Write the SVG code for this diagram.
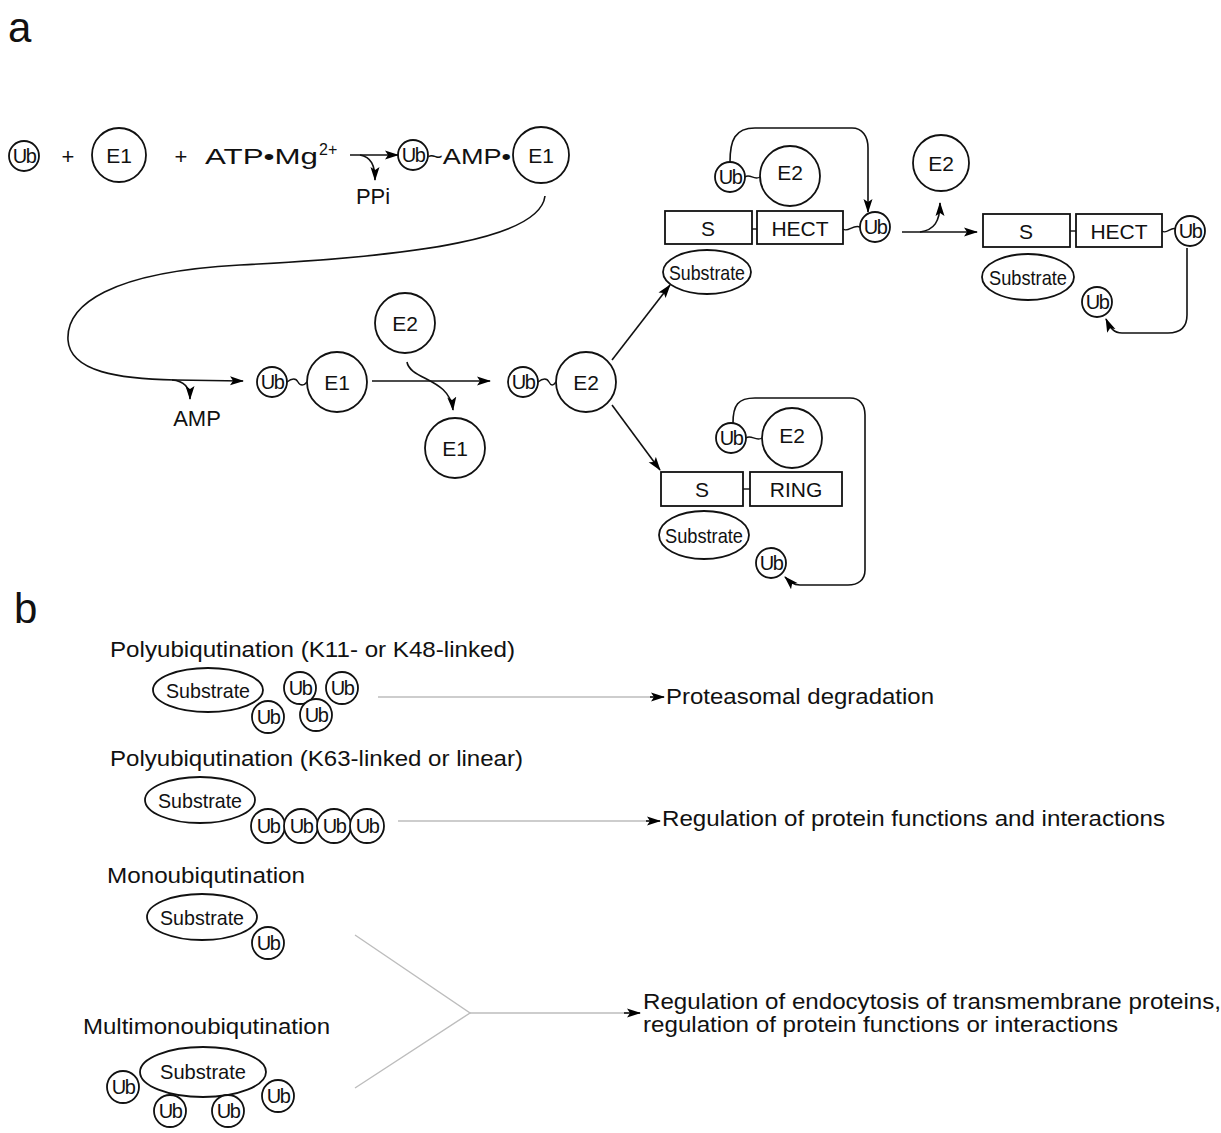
<svg xmlns="http://www.w3.org/2000/svg" width="1221" height="1133" viewBox="0 0 1221 1133">
<defs>
<marker id="ah" markerWidth="14" markerHeight="10" refX="13" refY="5" orient="auto" markerUnits="userSpaceOnUse">
<path d="M0,0.5 L14,5 L0,9.5 L3,5 z" fill="#000"/>
</marker>
<style>
text{font-family:"Liberation Sans",Arial,sans-serif;fill:#111}
.n{fill:#fff;stroke:#111;stroke-width:1.8}
.c{font-size:21px;text-anchor:middle;dominant-baseline:central}
.ub{font-size:20px;text-anchor:middle;dominant-baseline:central;letter-spacing:-1.5px}
.t{font-size:22px}
.ln{fill:none;stroke:#111;stroke-width:1.6}
.gl{fill:none;stroke:#bdbdbd;stroke-width:1.4}
.lk{fill:none;stroke:#111;stroke-width:1.4}
</style>
</defs>
<rect width="1221" height="1133" fill="#fff"/>
<text x="8" y="42" style="font-size:42px">a</text>
<text x="14" y="623" style="font-size:42px">b</text>

<!-- row 1 -->
<g id="ub1"><circle class="n" cx="24" cy="156" r="15"/><text class="ub" x="24" y="156">Ub</text></g>
<text class="t" x="68" y="164" text-anchor="middle">+</text>
<g id="e1a"><circle class="n" cx="119" cy="155" r="27"/><text class="c" x="119" y="155">E1</text></g>
<text class="t" x="181" y="164" text-anchor="middle">+</text>
<g id="atp"><text class="t" x="205" y="164" textLength="113" lengthAdjust="spacingAndGlyphs">ATP•Mg</text><text x="319" y="155" style="font-size:16px">2+</text></g>
<text id="ppi" class="t" x="373" y="204" text-anchor="middle">PPi</text>
<g id="ubamp"><circle class="n" cx="413" cy="155" r="15"/><text class="ub" x="413" y="155">Ub</text>
<text class="t" x="427" y="164" textLength="84" lengthAdjust="spacingAndGlyphs">~AMP•</text></g>
<g id="e1b"><circle class="n" cx="541" cy="155" r="28"/><text class="c" x="541" y="155">E1</text></g>

<!-- row 2 -->
<text id="amp" class="t" x="197" y="426" text-anchor="middle">AMP</text>
<g id="ube1"><circle class="n" cx="272" cy="382" r="15"/><text class="ub" x="272" y="382">Ub</text>
<path class="lk" d="M287,382 C292,378 296,378 298,382 C300,386 304,386 307,382"/>
<circle class="n" cx="337" cy="382" r="30"/><text class="c" x="337" y="382">E1</text></g>
<g id="e2free"><circle class="n" cx="405" cy="323" r="30"/><text class="c" x="405" y="323">E2</text></g>
<g id="e1free"><circle class="n" cx="455" cy="448" r="30"/><text class="c" x="455" y="448">E1</text></g>
<g id="ube2"><circle class="n" cx="523" cy="382" r="15"/><text class="ub" x="523" y="382">Ub</text>
<path class="lk" d="M538,382 C543,378 547,378 549,382 C551,386 553,386 556,382"/>
<circle class="n" cx="586" cy="382" r="30"/><text class="c" x="586" y="382">E2</text></g>

<!-- HECT complex 1 -->
<g id="hect1">
<rect class="n" x="665" y="211" width="87" height="33"/><text class="c" x="708" y="228">S</text>
<line class="lk" x1="752" y1="229" x2="757" y2="229"/>
<rect class="n" x="757" y="211" width="86" height="33"/><text class="c" x="800" y="228">HECT</text>
<path class="lk" d="M843,229 C848,233 853,224 860,227"/>
<circle class="n" cx="875" cy="227" r="15"/><text class="ub" x="875" y="227">Ub</text>
<circle class="n" cx="790" cy="176" r="30"/><text class="c" x="790" y="172">E2</text>
<path class="lk" d="M745,177 C750,173 754,181 760,177"/>
<circle class="n" cx="730" cy="177" r="15"/><text class="ub" x="730" y="177">Ub</text>
<ellipse class="n" cx="707" cy="272" rx="44" ry="22"/><text class="c" x="707" y="272" textLength="76" lengthAdjust="spacingAndGlyphs">Substrate</text>
</g>
<g id="e2rel"><circle class="n" cx="941" cy="163" r="28"/><text class="c" x="941" y="163">E2</text></g>

<!-- HECT complex 2 -->
<g id="hect2">
<rect class="n" x="983" y="214" width="87" height="33"/><text class="c" x="1026" y="231">S</text>
<line class="lk" x1="1070" y1="231" x2="1076" y2="231"/>
<rect class="n" x="1076" y="214" width="86" height="33"/><text class="c" x="1119" y="231">HECT</text>
<path class="lk" d="M1162,231 C1167,235 1171,226 1176,229"/>
<circle class="n" cx="1190" cy="231" r="15"/><text class="ub" x="1190" y="231">Ub</text>
<ellipse class="n" cx="1028" cy="277" rx="46" ry="23"/><text class="c" x="1028" y="277" textLength="78" lengthAdjust="spacingAndGlyphs">Substrate</text>
<circle class="n" cx="1097" cy="302" r="15"/><text class="ub" x="1097" y="302">Ub</text>
</g>

<!-- RING complex -->
<g id="ring">
<rect class="n" x="661" y="472" width="82" height="34"/><text class="c" x="702" y="489">S</text>
<line class="lk" x1="743" y1="489" x2="750" y2="489"/>
<rect class="n" x="750" y="472" width="92" height="34"/><text class="c" x="796" y="489">RING</text>
<circle class="n" cx="792" cy="438" r="30"/><text class="c" x="792" y="435">E2</text>
<path class="lk" d="M746,438 C751,434 756,442 762,438"/>
<circle class="n" cx="731" cy="438" r="15"/><text class="ub" x="731" y="438">Ub</text>
<ellipse class="n" cx="704" cy="535" rx="45" ry="24"/><text class="c" x="704" y="535" textLength="78" lengthAdjust="spacingAndGlyphs">Substrate</text>
<circle class="n" cx="771" cy="563" r="15"/><text class="ub" x="771" y="563">Ub</text>
</g>

<!-- part b -->
<text class="t" x="110" y="657" textLength="405" lengthAdjust="spacingAndGlyphs">Polyubiqutination (K11- or K48-linked)</text>
<g id="poly48">
<ellipse class="n" cx="208" cy="690" rx="55" ry="22"/><text class="c" x="208" y="690" textLength="84" lengthAdjust="spacingAndGlyphs">Substrate</text>
<circle class="n" cx="268" cy="717" r="16"/><text class="ub" x="268" y="717">Ub</text>
<circle class="n" cx="300" cy="688" r="16"/><text class="ub" x="300" y="688">Ub</text>
<circle class="n" cx="316" cy="715" r="16"/><text class="ub" x="316" y="715">Ub</text>
<circle class="n" cx="342" cy="688" r="16"/><text class="ub" x="342" y="688">Ub</text>
</g>
<text class="t" x="666" y="704" textLength="268" lengthAdjust="spacingAndGlyphs">Proteasomal degradation</text>

<text class="t" x="110" y="766" textLength="413" lengthAdjust="spacingAndGlyphs">Polyubiqutination (K63-linked or linear)</text>
<g id="poly63">
<ellipse class="n" cx="200" cy="800" rx="55" ry="23"/><text class="c" x="200" y="800" textLength="84" lengthAdjust="spacingAndGlyphs">Substrate</text>
<circle class="n" cx="268" cy="826" r="17"/><text class="ub" x="268" y="826">Ub</text>
<circle class="n" cx="301" cy="826" r="17"/><text class="ub" x="301" y="826">Ub</text>
<circle class="n" cx="334" cy="826" r="17"/><text class="ub" x="334" y="826">Ub</text>
<circle class="n" cx="367" cy="826" r="17"/><text class="ub" x="367" y="826">Ub</text>
</g>
<text class="t" x="662" y="826" textLength="503" lengthAdjust="spacingAndGlyphs">Regulation of protein functions and interactions</text>

<text class="t" x="107" y="883" textLength="198" lengthAdjust="spacingAndGlyphs">Monoubiqutination</text>
<g id="mono">
<ellipse class="n" cx="202" cy="917" rx="55" ry="23"/><text class="c" x="202" y="917" textLength="84" lengthAdjust="spacingAndGlyphs">Substrate</text>
<circle class="n" cx="268" cy="943" r="16"/><text class="ub" x="268" y="943">Ub</text>
</g>

<text class="t" x="83" y="1034" textLength="247" lengthAdjust="spacingAndGlyphs">Multimonoubiqutination</text>
<g id="multi">
<ellipse class="n" cx="203" cy="1072" rx="63" ry="25"/><text class="c" x="203" y="1071" textLength="86" lengthAdjust="spacingAndGlyphs">Substrate</text>
<circle class="n" cx="123" cy="1087" r="16"/><text class="ub" x="123" y="1087">Ub</text>
<circle class="n" cx="170" cy="1111" r="16"/><text class="ub" x="170" y="1111">Ub</text>
<circle class="n" cx="228" cy="1111" r="16"/><text class="ub" x="228" y="1111">Ub</text>
<circle class="n" cx="278" cy="1096" r="16"/><text class="ub" x="278" y="1096">Ub</text>
</g>
<text class="t" x="643" y="1009" textLength="578" lengthAdjust="spacingAndGlyphs">Regulation of endocytosis of transmembrane proteins,</text>
<text class="t" x="643" y="1032" textLength="475" lengthAdjust="spacingAndGlyphs">regulation of protein functions or interactions</text>

<!-- connectors -->
<g id="connectors">
<line class="ln" x1="350" y1="155" x2="398" y2="155" marker-end="url(#ah)"/>
<path class="ln" d="M360,155 C371,157 375,165 375,180" marker-end="url(#ah)"/>
<path class="ln" d="M545,196 C540,238 420,256 240,265 C110,272 66,305 68,340 C70,372 120,379 175,380 L243,381" marker-end="url(#ah)"/>
<path class="ln" d="M172,380 C185,381 190,388 190,399" marker-end="url(#ah)"/>
<line class="ln" x1="372" y1="381" x2="490" y2="381" marker-end="url(#ah)"/>
<path class="ln" d="M407,362 C410,380 450,378 453,410" marker-end="url(#ah)"/>
<line class="ln" x1="612" y1="360" x2="670" y2="285" marker-end="url(#ah)"/>
<line class="ln" x1="612" y1="405" x2="660" y2="470" marker-end="url(#ah)"/>
<path class="ln" d="M730,162 C730,140 735,128 755,128 L852,128 C862,128 868,136 868,148 L868,212" marker-end="url(#ah)"/>
<line class="ln" x1="902" y1="232" x2="977" y2="232" marker-end="url(#ah)"/>
<path class="ln" d="M920,232 C934,230 940,222 940,203" marker-end="url(#ah)"/>
<path class="ln" d="M1187,248 L1187,315 C1187,328 1180,333 1168,333 L1122,333 C1114,333 1110,328 1106,319" marker-end="url(#ah)"/>
<path class="ln" d="M733,423 C733,405 738,398 755,398 L850,398 C860,398 865,405 865,415 L865,570 C865,580 858,585 848,585 L800,585 C793,585 789,581 785,577" marker-end="url(#ah)"/>
<line class="gl" x1="378" y1="697" x2="656" y2="697"/>
<line class="ln" x1="650" y1="697" x2="664" y2="697" marker-end="url(#ah)"/>
<line class="gl" x1="398" y1="821" x2="652" y2="821"/>
<line class="ln" x1="646" y1="821" x2="660" y2="821" marker-end="url(#ah)"/>
<polyline class="gl" points="355,935 470,1013 355,1088"/>
<line class="gl" x1="470" y1="1013" x2="628" y2="1013"/>
<line class="ln" x1="624" y1="1013" x2="640" y2="1013" marker-end="url(#ah)"/>
</g>
</svg>
